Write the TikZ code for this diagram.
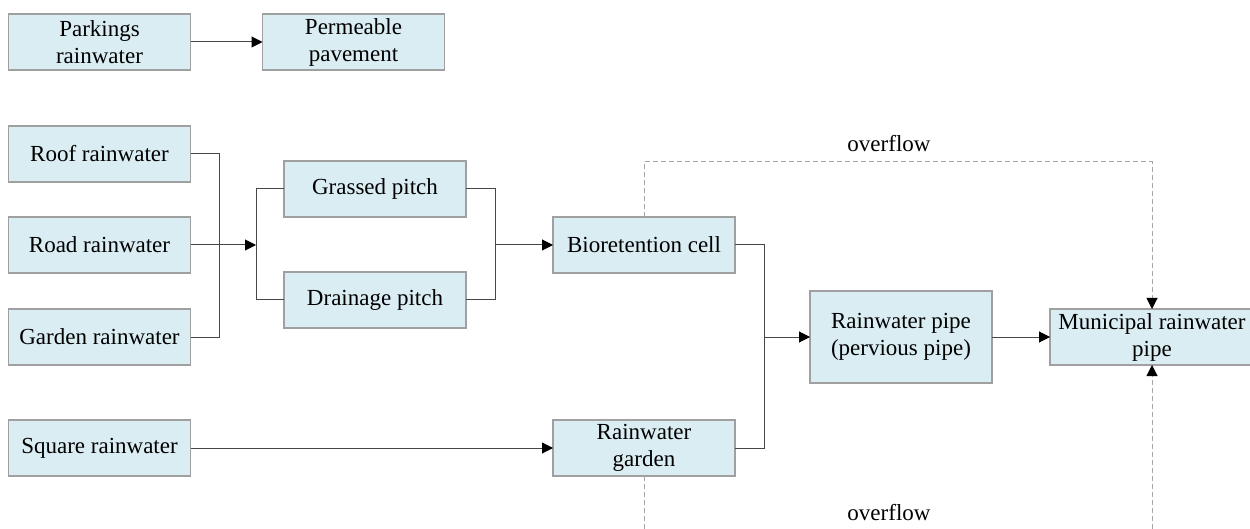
\documentclass[tikz,border=0pt]{standalone}
\usepackage{fontspec}
\setmainfont{Liberation Serif}
\usetikzlibrary{arrows.meta}
\definecolor{boxfill}{RGB}{218,237,243}
\definecolor{boxline}{RGB}{160,160,160}
\definecolor{conline}{RGB}{70,70,70}
\definecolor{dashline}{RGB}{165,165,165}
\begin{document}
\begin{tikzpicture}[x=1pt,y=-1pt,
  box/.style={draw=boxline, fill=boxfill, line width=1.2pt, inner sep=0pt, outer sep=0pt,
    minimum width=182pt, minimum height=56pt, align=center,
    font=\fontsize{23}{27}\selectfont},
  con/.style={draw=conline, line width=1pt},
  tip/.style={-{Triangle[length=11pt,width=11pt,color=black]}},
  arr/.style={con, tip},
  ovf/.style={draw=dashline, line width=1pt, dash pattern=on 5pt off 3pt},
  ovfarr/.style={ovf, tip},
  lbl/.style={font=\fontsize{23}{27}\selectfont, inner sep=0pt}
]
\useasboundingbox (0,0) rectangle (1250,529);
% nodes
\node[box] (park) at (99.5,42) {Parkings\\rainwater};
\node[box] (perm) at (353.5,42) {Permeable\\pavement};
\node[box] (roof) at (99.5,154) {Roof rainwater};
\node[box] (road) at (99.5,245) {Road rainwater};
\node[box] (gard) at (99.5,337) {Garden rainwater};
\node[box] (squa) at (99.5,448) {Square rainwater};
\node[box] (gras) at (375,189) {Grassed pitch};
\node[box] (drai) at (375,300) {Drainage pitch};
\node[box] (bio) at (644,245) {Bioretention cell};
\node[box] (rgar) at (644,448) {Rainwater\\garden};
\node[box, minimum height=92pt] (pipe) at (901,337) {Rainwater pipe\\(pervious pipe)};
\node[box, minimum width=204pt] (muni) at (1152,337) {Municipal rainwater\\pipe};
% junction coordinates
\coordinate (j1) at (219,245);
\coordinate (j2) at (256,245);
\coordinate (j3) at (495,245);
\coordinate (j4) at (764,337);
\coordinate (ovt) at (1152,162);
\coordinate (ovb1) at (644,529);
\coordinate (ovb2) at (1152,529);
% connectors
\draw[arr] (park.east) -- (perm.west);
\draw[con] (roof.east) -| (j1);
\draw[con] (gard.east) -| (j1);
\draw[arr] (road.east) -- (j2);
\draw[con] (gras.west) -| (j2);
\draw[con] (drai.west) -| (j2);
\draw[con] (gras.east) -| (j3);
\draw[con] (drai.east) -| (j3);
\draw[arr] (j3) -- (bio.west);
\draw[arr] (squa.east) -- (rgar.west);
\draw[con] (bio.east) -| (j4);
\draw[con] (rgar.east) -| (j4);
\draw[arr] (j4) -- (pipe.west);
\draw[arr] (pipe.east) -- (muni.west);
% overflow
\draw[ovfarr] (bio.north) |- (ovt) -- (muni.north);
\draw[ovf] (rgar.south) -- (ovb1);
\draw[ovfarr] (ovb2) -- (muni.south);
\node[lbl] (ov1) at (889,144) {overflow};
\node[lbl] (ov2) at (889,513) {overflow};
\end{tikzpicture}
\end{document}
